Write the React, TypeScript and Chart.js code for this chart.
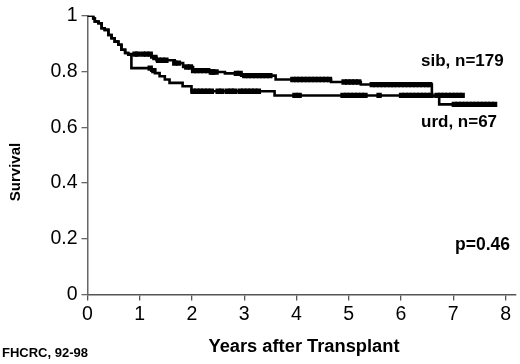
import React, { useEffect, useRef } from "react";
import { Chart, registerables } from "chart.js";

Chart.register(...registerables);

// Kaplan-Meier step points (time in years, survival)
const sibTimes = [0, 0.11, 0.14, 0.21, 0.27, 0.33, 0.40, 0.46, 0.52, 0.59, 0.65, 0.72, 0.78, 1.22, 1.32, 1.67, 1.83, 2.02, 2.37, 2.63, 2.94, 3.60, 4.66, 5.23, 6.59, 6.73, 7.81];
const sibSurv = [1, 0.99, 0.979, 0.973, 0.955, 0.949, 0.931, 0.919, 0.907, 0.896, 0.878, 0.866, 0.862, 0.850, 0.840, 0.830, 0.816, 0.803, 0.798, 0.793, 0.785, 0.771, 0.762, 0.753, 0.711, 0.682, 0.682];

const urdTimes = [0, 0.11, 0.14, 0.21, 0.27, 0.33, 0.40, 0.46, 0.52, 0.59, 0.65, 0.72, 0.78, 0.84, 1.22, 1.29, 1.38, 1.48, 1.57, 1.82, 1.99, 3.58, 7.17];
const urdSurv = [1, 0.99, 0.979, 0.973, 0.955, 0.949, 0.931, 0.919, 0.907, 0.896, 0.878, 0.866, 0.860, 0.812, 0.803, 0.794, 0.783, 0.771, 0.759, 0.747, 0.729, 0.714, 0.714];

// censoring times
const sibCensor = [0.91, 0.96, 1.06, 1.13, 1.20, 1.29, 1.36, 1.43, 1.50, 1.67, 1.74, 1.90, 1.97, 2.03, 2.09, 2.16, 2.23, 2.30, 2.37, 2.40, 2.46, 2.85, 2.92, 3.01, 3.08, 3.15, 3.22, 3.29, 3.35, 3.42, 3.49, 3.93, 4.00, 4.07, 4.14, 4.21, 4.28, 4.35, 4.42, 4.49, 4.56, 4.63, 4.91, 4.98, 5.05, 5.12, 5.19, 5.45, 5.52, 5.59, 5.66, 5.73, 5.80, 5.86, 5.93, 6.00, 6.07, 6.14, 6.21, 6.28, 6.35, 6.42, 6.49, 6.55, 7.02, 7.09, 7.16, 7.23, 7.30, 7.37, 7.44, 7.51, 7.58, 7.65, 7.72, 7.79];
const urdCensor = [1.20, 1.27, 2.02, 2.09, 2.16, 2.23, 2.30, 2.37, 2.50, 2.57, 2.68, 2.75, 2.81, 2.92, 2.99, 3.06, 3.13, 3.20, 3.27, 3.97, 4.05, 4.89, 4.96, 5.03, 5.10, 5.17, 5.24, 5.31, 5.58, 6.01, 6.08, 6.15, 6.22, 6.29, 6.36, 6.43, 6.50, 6.57, 6.69, 6.76, 6.83, 6.90, 6.97, 7.04, 7.11, 7.17];

const xTicks = [0, 1, 2, 3, 4, 5, 6, 7, 8];
const yTicks = [0, 0.2, 0.4, 0.6, 0.8, 1];

const FONT = '"Liberation Sans", Arial, sans-serif';

function stepValue(times: number[], surv: number[], t: number) {
  let v = surv[0];
  for (let i = 0; i < times.length; i++) {
    if (times[i] <= t) v = surv[i];
  }
  return v;
}

const textPlugin = {
  id: "texts",
  afterDraw(chart: any) {
    const ctx = chart.ctx;
    ctx.save();
    ctx.fillStyle = "#000";
    ctx.textBaseline = "middle";
    ctx.textAlign = "left";
    ctx.font = `bold 17px ${FONT}`;
    ctx.fillText("sib, n=179", 421, 61);
    ctx.fillText("urd, n=67", 421, 122);
    ctx.font = `bold 17.5px ${FONT}`;
    ctx.fillText("p=0.46", 455, 245);
    ctx.font = `bold 13px ${FONT}`;
    ctx.fillText("FHCRC, 92-98", 2, 353);
    ctx.textAlign = "center";
    ctx.font = `bold 18.3px ${FONT}`;
    ctx.fillText("Years after Transplant", 304, 347);
    ctx.translate(16, 172);
    ctx.rotate(-Math.PI / 2);
    ctx.font = `bold 15px ${FONT}`;
    ctx.fillText("Survival", 0, 0);
    ctx.restore();
  },
};

export default function App() {
  const ref = useRef<HTMLCanvasElement>(null);
  useEffect(() => {
    if (!ref.current) return;
    const line = (times: number[], surv: number[]) =>
      times.map((t, i) => ({ x: t, y: surv[i] }));
    const marks = (c: number[], times: number[], surv: number[]) =>
      c.map((t) => ({ x: t, y: stepValue(times, surv, t) }));
    const chart = new Chart(ref.current, {
      type: "line",
      data: {
        datasets: [
          {
            label: "sib",
            data: line(sibTimes, sibSurv),
            stepped: "before",
            borderColor: "#000",
            borderWidth: 2.6,
            pointRadius: 0,
            fill: false,
          },
          {
            label: "urd",
            data: line(urdTimes, urdSurv),
            stepped: "before",
            borderColor: "#000",
            borderWidth: 2.6,
            pointRadius: 0,
            fill: false,
          },
          {
            label: "sib censored",
            data: marks(sibCensor, sibTimes, sibSurv),
            showLine: false,
            pointStyle: "rect",
            pointRadius: 3.8,
            backgroundColor: "#000",
            borderColor: "#000",
            borderWidth: 0,
          },
          {
            label: "urd censored",
            data: marks(urdCensor, urdTimes, urdSurv),
            showLine: false,
            pointStyle: "rect",
            pointRadius: 3.8,
            backgroundColor: "#000",
            borderColor: "#000",
            borderWidth: 0,
          },
        ],
      },
      options: {
        animation: false,
        responsive: false,
        layout: { padding: { left: 0, top: 14, right: 2.8, bottom: 0 } },
        plugins: { legend: { display: false }, tooltip: { enabled: false } },
        scales: {
          x: {
            type: "linear",
            min: 0,
            max: 8.2,
            afterBuildTicks: (scale: any) => {
              scale.ticks = xTicks.map((v) => ({ value: v }));
            },
            afterFit: (scale: any) => {
              scale.height = 69.5;
            },
            ticks: {
              color: "#000",
              font: { family: FONT, size: 19.5 },
              padding: 2,
              maxRotation: 0,
              autoSkip: false,
            },
            grid: {
              drawOnChartArea: false,
              drawTicks: true,
              tickLength: 6,
              color: "#555",
              lineWidth: 1.3,
            },
            border: { display: true, color: "#555", width: 1.5 },
          },
          y: {
            type: "linear",
            min: 0,
            max: 1,
            afterBuildTicks: (scale: any) => {
              scale.ticks = yTicks.map((v) => ({ value: v }));
            },
            afterFit: (scale: any) => {
              scale.width = 87.5;
            },
            ticks: {
              color: "#000",
              font: { family: FONT, size: 19.5 },
              padding: 4,
              autoSkip: false,
              callback: (v: any) => String(v),
            },
            grid: {
              drawOnChartArea: false,
              drawTicks: true,
              tickLength: 6,
              color: "#666",
              lineWidth: 1.3,
            },
            border: { display: true, color: "#666", width: 1.5 },
          },
        },
      },
      plugins: [textPlugin],
    });
    return () => chart.destroy();
  }, []);
  return (
    <div style={{ position: "fixed", left: 0, top: 0, width: 520, height: 364, background: "#fff" }}>
      <canvas ref={ref} width={520} height={364} style={{ width: 520, height: 364, display: "block" }} />
    </div>
  );
}
